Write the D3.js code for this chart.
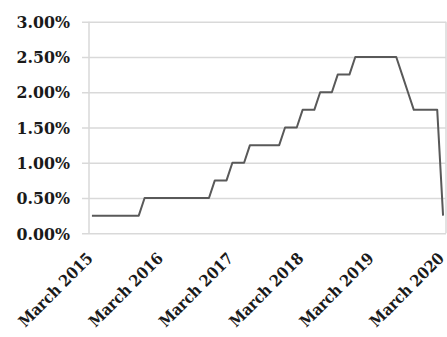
<!DOCTYPE html>
<html>
<head>
<meta charset="utf-8">
<script src="https://cdn.jsdelivr.net/npm/d3@7"></script>
<style>
  html, body { margin: 0; padding: 0; background: #fff; }
  svg { display: block; }
  text { font-family: "DejaVu Serif", serif; font-weight: bold; fill: #1a1a1a; }
  .x-axis text { font-family: "DejaVu Serif Condensed", "DejaVu Serif", serif; font-stretch: condensed; }
</style>
</head>
<body>
<svg id="chart" width="447" height="337"></svg>
<script>
// Monthly target rate (upper bound, %), March 2015 through March 2020
const rates = [
  0.25, 0.25, 0.25, 0.25, 0.25, 0.25, 0.25, 0.25, 0.25, 0.50, // Mar–Dec 2015
  0.50, 0.50, 0.50, 0.50, 0.50, 0.50, 0.50, 0.50, 0.50, 0.50, 0.50, 0.75, // 2016
  0.75, 0.75, 1.00, 1.00, 1.00, 1.25, 1.25, 1.25, 1.25, 1.25, 1.25, 1.50, // 2017
  1.50, 1.50, 1.75, 1.75, 1.75, 2.00, 2.00, 2.00, 2.25, 2.25, 2.25, 2.50, // 2018
  2.50, 2.50, 2.50, 2.50, 2.50, 2.50, 2.50, 2.25, 2.00, 1.75, 1.75, 1.75, // 2019
  1.75, 1.75, 0.25 // Jan–Mar 2020
];
const yTicks = [0, 0.5, 1.0, 1.5, 2.0, 2.5, 3.0];
const xTickLabels = ["March 2015", "March 2016", "March 2017", "March 2018", "March 2019", "March 2020"];

const svg = d3.select("#chart");
const plot = { left: 89, right: 446, top: 21.7, bottom: 233.3 };

const x = d3.scaleBand()
  .domain(d3.range(rates.length))
  .range([plot.left, plot.right]);
const xc = i => x(i) + x.bandwidth() / 2;

const y = d3.scaleLinear().domain([0, 3]).range([plot.bottom, plot.top]);

// horizontal gridlines, extended left as tick marks
const yAxis = d3.axisLeft(y)
  .tickValues(yTicks)
  .tickSize(-(plot.right - plot.left))
  .tickFormat(d => d3.format(".2f")(d) + "%")
  .tickPadding(19);

const gy = svg.append("g")
  .attr("transform", `translate(${plot.left},0)`)
  .call(yAxis);
gy.select(".domain").remove();
gy.selectAll(".tick line")
  .attr("x1", -7)
  .attr("stroke", "#d9d9d9")
  .attr("stroke-width", 1.5);
gy.selectAll(".tick text")
  .attr("font-size", 15.8)
  .attr("dy", "0.36em");

// vertical axis line and right edge
svg.append("line")
  .attr("x1", plot.left).attr("x2", plot.left)
  .attr("y1", plot.top).attr("y2", plot.bottom)
  .attr("stroke", "#d9d9d9").attr("stroke-width", 1.5);
svg.append("line")
  .attr("x1", plot.right).attr("x2", plot.right)
  .attr("y1", plot.top).attr("y2", plot.bottom)
  .attr("stroke", "#d9d9d9").attr("stroke-width", 1.5);

// category axis: one label every twelve months
const tickIdx = xTickLabels.map((_, k) => k * 12);
const xAxis = d3.axisBottom(x)
  .tickValues(tickIdx)
  .tickSize(0)
  .tickFormat((d, k) => xTickLabels[k]);
const gx = svg.append("g")
  .attr("class", "x-axis")
  .attr("transform", `translate(0,${plot.bottom})`)
  .call(xAxis);
gx.select(".domain").remove();
gx.selectAll(".tick text")
  .attr("font-size", 16)
  .attr("text-anchor", "end")
  .attr("dy", 0)
  .attr("transform", "translate(2,26) rotate(-45)")
  .attr("x", 0).attr("y", 0);

// rate line
const line = d3.line()
  .x((d, i) => xc(i))
  .y(d => y(d));
svg.append("path")
  .datum(rates)
  .attr("fill", "none")
  .attr("stroke", "#595959")
  .attr("stroke-width", 2)
  .attr("stroke-linejoin", "round")
  .attr("d", line);
</script>
</body>
</html>
